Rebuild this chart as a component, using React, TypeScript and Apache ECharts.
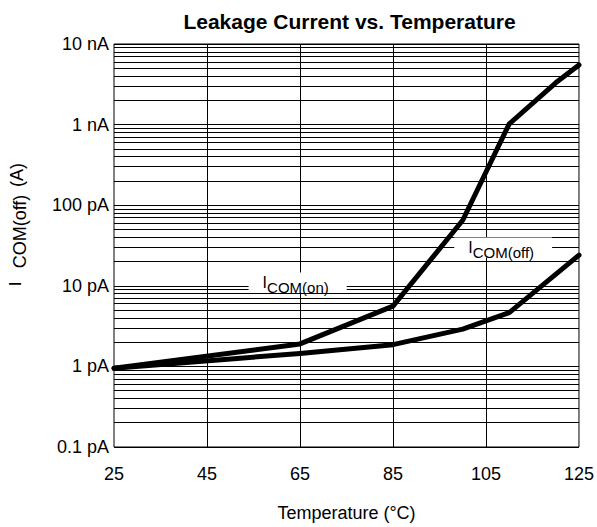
import React, { useEffect, useRef } from "react";
import * as echarts from "echarts";

const FONT = "'Liberation Sans', Arial, Helvetica, sans-serif";

// X axis (temperature, °C)
const xTicks = [25, 45, 65, 85, 105, 125];
// Y axis (current, pA) decades and their labels
const yDecades = [0.1, 1, 10, 100, 1000, 10000];
const yTickLabels = ["0.1 pA", "1 pA", "10 pA", "100 pA", "1 nA", "10 nA"];
const minorMultipliers = [2, 3, 4, 5, 6, 7, 8, 9];

// ICOM(on) curve
const onTemps = [25, 65, 85, 100, 110, 120, 125];
const onValues = [0.95, 1.9, 5.6, 65, 1020, 3300, 5500]; // pA

// ICOM(off) curve
const offTemps = [25, 65, 85, 100, 110, 125];
const offValues = [0.95, 1.45, 1.86, 2.9, 4.65, 24]; // pA

// Annotation anchors (temperature, pA)
const onLabelAt = [64.5, 11];
const offLabelAt = [108.7, 29.9];

export default function App() {
  const ref = useRef<HTMLDivElement>(null);
  useEffect(() => {
    const chart = echarts.init(ref.current!, null, { renderer: "svg" });

    const minorLines: any[] = [];
    yDecades.slice(0, -1).forEach((d) =>
      minorMultipliers.forEach((m) => minorLines.push({ yAxis: d * m }))
    );
    xTicks.slice(1, -1).forEach((t) => minorLines.push({ xAxis: t }));

    const labelFmt = (v: number) => {
      const i = yDecades.findIndex(
        (d) => Math.abs(Math.log10(d) - Math.log10(v)) < 1e-6
      );
      return i >= 0 ? yTickLabels[i] : "";
    };

    const rich = {
      i: { fontSize: 16, fontFamily: FONT, color: "#000", lineHeight: 20 },
      s: {
        fontSize: 15,
        fontFamily: FONT,
        color: "#000",
        lineHeight: 20,
        padding: [11, 0, 0, 0],
      },
    };

    const option: any = {
      animation: false,
      backgroundColor: "#fff",
      textStyle: { fontFamily: FONT },
      grid: {
        left: 114,
        right: 16,
        top: 44,
        bottom: 79,
        show: true,
        borderColor: "#000",
        borderWidth: 1,
        backgroundColor: "transparent",
      },
      xAxis: {
        type: "value",
        min: 25,
        max: 125,
        interval: 5,
        axisLine: { show: false },
        axisTick: { show: false },
        splitLine: { show: false },
        axisLabel: {
          color: "#000",
          fontSize: 18,
          fontFamily: FONT,
          margin: 18,
          formatter: (v: number) => (xTicks.includes(v) ? String(v) : ""),
        },
        name: "Temperature (°C)",
        nameLocation: "middle",
        nameGap: 57,
        nameTextStyle: { color: "#000", fontSize: 18, fontFamily: FONT },
      },
      yAxis: {
        type: "log",
        logBase: 10,
        min: 0.1,
        max: 10000,
        splitNumber: 5,
        axisLine: { show: false },
        axisTick: { show: false },
        splitLine: { show: true, lineStyle: { color: "#000", width: 1 } },
        axisLabel: {
          color: "#000",
          fontSize: 18,
          fontFamily: FONT,
          margin: 5,
          formatter: labelFmt,
        },
      },
      graphic: [
        {
          type: "text",
          x: 349.5,
          y: 21.5,
          style: {
            text: "Leakage Current vs. Temperature",
            font: `bold 21px ${FONT}`,
            fill: "#000",
            textAlign: "center",
            textVerticalAlign: "middle",
          },
        },
        {
          type: "text",
          x: 15.5,
          y: 284,
          rotation: Math.PI / 2,
          style: {
            text: "I",
            font: `17px ${FONT}`,
            fill: "#000",
            textAlign: "center",
            textVerticalAlign: "middle",
          },
        },
        {
          type: "text",
          x: 20,
          y: 231.5,
          rotation: Math.PI / 2,
          style: {
            text: "COM(off)",
            font: `18px ${FONT}`,
            fill: "#000",
            textAlign: "center",
            textVerticalAlign: "middle",
          },
        },
        {
          type: "text",
          x: 17,
          y: 175,
          rotation: Math.PI / 2,
          style: {
            text: "(A)",
            font: `18px ${FONT}`,
            fill: "#000",
            textAlign: "center",
            textVerticalAlign: "middle",
          },
        },
      ],
      series: [
        {
          type: "line",
          name: "grid",
          data: [],
          z: 1,
          silent: true,
          markLine: {
            silent: true,
            symbol: ["none", "none"],
            label: { show: false },
            lineStyle: { color: "#000", width: 1, type: "solid" },
            emphasis: { disabled: true },
            data: minorLines,
          },
        },
        {
          type: "line",
          name: "ICOM(on)",
          data: onTemps.map((t, i) => [t, onValues[i]]),
          showSymbol: false,
          symbol: "none",
          z: 3,
          lineStyle: { color: "#000", width: 5, join: "round", cap: "round" },
        },
        {
          type: "line",
          name: "ICOM(off)",
          data: offTemps.map((t, i) => [t, offValues[i]]),
          showSymbol: false,
          symbol: "none",
          z: 3,
          lineStyle: { color: "#000", width: 5, join: "round", cap: "round" },
        },
        {
          type: "line",
          name: "labels",
          data: [],
          z: 5,
          silent: true,
          markPoint: {
            silent: true,
            symbol: "rect",
            symbolSize: 1,
            itemStyle: { color: "#fff" },
            label: {
              show: true,
              position: "inside",
              backgroundColor: "#fff",
              padding: [0, 18, 0, 14],
              rich,
            },
            data: [
              {
                name: "on",
                coord: onLabelAt,
                label: { formatter: "{i|I}{s|COM(on)}" },
              },
              {
                name: "off",
                coord: offLabelAt,
                label: { formatter: "{i|I}{s|COM(off)}" },
              },
            ],
          },
        },
      ],
    };

    chart.setOption(option);
    return () => chart.dispose();
  }, []);

  return (
    <div
      ref={ref}
      style={{
        position: "fixed",
        left: 0,
        top: 0,
        width: 597,
        height: 527,
        background: "#fff",
      }}
    />
  );
}
